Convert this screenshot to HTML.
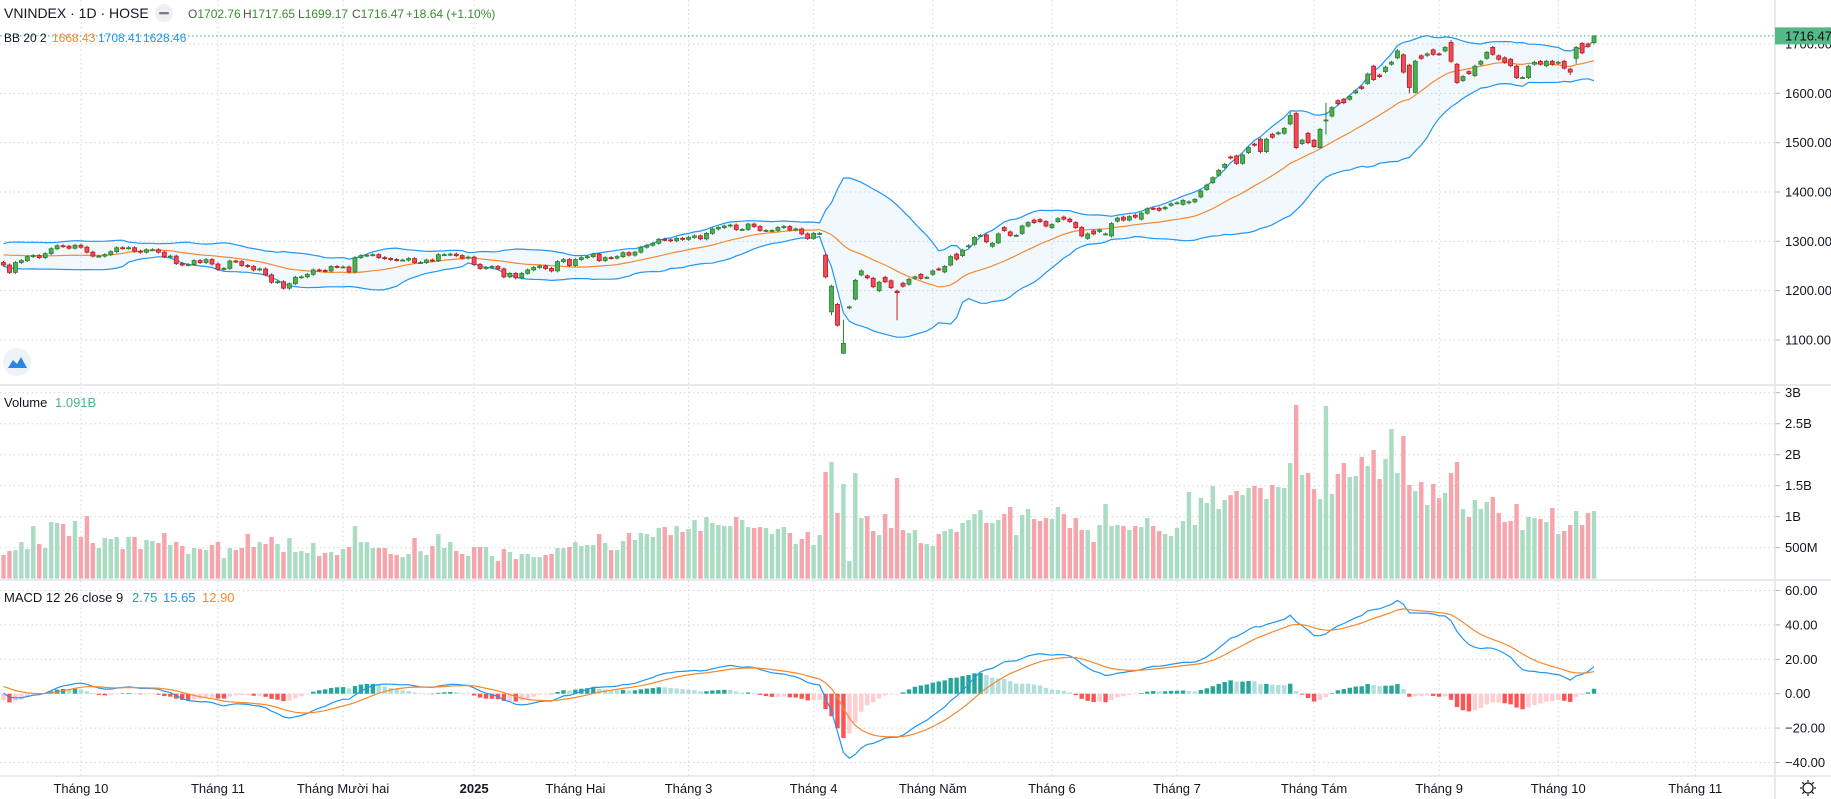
<!DOCTYPE html>
<html><head><meta charset="utf-8"><title>VNINDEX 1D HOSE</title>
<style>
html,body{margin:0;padding:0;background:#fff;}
svg{display:block;font-family:"Liberation Sans",sans-serif;}
</style></head>
<body>
<svg id="chart" width="1831" height="799" viewBox="0 0 1831 799" xmlns="http://www.w3.org/2000/svg">
  <rect x="0" y="0" width="1831" height="799" fill="#ffffff"/>
  <g id="grid"></g>
  <g id="bbLayer"></g>
  <g id="candles"></g>
  <g id="volume"></g>
  <g id="macd"></g>
  <g id="axes"></g>

  <g font-size="14" fill="#131722">
    <text x="4" y="18">VNINDEX · 1D · HOSE</text>
    <circle cx="164" cy="13" r="9" fill="#eef0f4"/>
    <rect x="159" y="12" width="10" height="2.4" rx="1" fill="#787b86"/>
    <g font-size="12">
      <text x="188" y="18"><tspan fill="#555">O</tspan><tspan fill="#3d8a34">1702.76</tspan></text>
      <text x="243" y="18"><tspan fill="#555">H</tspan><tspan fill="#3d8a34">1717.65</tspan></text>
      <text x="298" y="18"><tspan fill="#555">L</tspan><tspan fill="#3d8a34">1699.17</tspan></text>
      <text x="352" y="18"><tspan fill="#555">C</tspan><tspan fill="#3d8a34">1716.47</tspan></text>
      <text x="406" y="18" fill="#3d8a34">+18.64 (+1.10%)</text>
    </g>
    <g font-size="12">
      <text x="4" y="42">BB 20 2</text>
      <text x="52" y="42" fill="#f7882f">1668.43</text>
      <text x="98" y="42" fill="#2196f3">1708.41</text>
      <text x="143" y="42" fill="#2196f3">1628.46</text>
    </g>
    <g font-size="13">
      <text x="4" y="407">Volume</text>
      <text x="55" y="407" fill="#4cb38a">1.091B</text>
    </g>
    <g font-size="13">
      <text x="4" y="602">MACD 12 26 close 9</text>
      <text x="132" y="602" fill="#26a69a">2.75</text>
      <text x="163" y="602" fill="#2196f3">15.65</text>
      <text x="202" y="602" fill="#f7882f">12.90</text>
    </g>
  </g>

  <g>
    <circle cx="17" cy="362" r="14" fill="#eef3fa"/>
    <path d="M8 368 L13 360 L17 364 L21 357 L27 368 Z" fill="#2a86e0"/>
  </g>
  <g transform="translate(1808,788)" stroke="#131722" stroke-width="1.3" fill="none">
    <circle r="5"/>
    <path d="M0 -8 V-6 M0 6 V8 M-8 0 H-6 M6 0 H8 M-5.7 -5.7 L-4.2 -4.2 M4.2 4.2 L5.7 5.7 M-5.7 5.7 L-4.2 4.2 M4.2 -4.2 L5.7 -5.7"/>
  </g>
</svg>
<script>
// ---------- DATA ----------
const priorCloses = [1253,1262,1270,1275,1268,1272,1280,1285,1288,1281,1278,1287,1290,1284,1275,1270,1268,1260,1257];
const closes = [
1252,1237,1257,1261,1269,1271,1267,1275,1285,1291,
1290,1286,1292,1288,1278,1270,1270,1273,1279,1287,
1286,1287,1280,1278,1283,1283,1278,1269,1270,1255,
1252,1253,1261,1257,1263,1254,1243,1245,1260,1259,
1251,1249,1242,1244,1232,1217,1218,1205,1214,1227,
1228,1233,1242,1241,1240,1249,1248,1248,1238,1267,
1271,1272,1273,1267,1265,1263,1262,1262,1265,1257,
1257,1262,1261,1273,1273,
1274,1271,1266,1268,1253,1245,1247,1249,1244,1228,
1235,1226,1235,1242,1247,1250,1245,1240,1259,1263,
1251,1263,1267,1269,1274,1261,1267,1266,1269,1277,
1272,1278,1288,1292,1296,1304,1303,1301,1306,1304,
1308,1311,1305,1316,1325,1328,1331,1333,1324,1324,
1335,1330,1322,1322,1322,1328,1330,1323,1325,1315,
1306,1316,1316,
1228,1209,1130,1093,1167,1221,1240,1226,1208,1217,
1218,1206,1196,1209,1223,1228,1225,1227,1240,1243,
1249,1269,1264,1282,1291,1308,1312,1299,1296,1315,
1322,1312,1312,1331,1338,1338,1340,1331,1334,1346,
1345,1340,1328,1311,1315,1315,1323,1315,1336,1347,
1343,1350,1349,1357,1366,1366,1363,1369,1376,1378,
1383,1380,1385,1402,1414,1429,1444,1456,1469,1458,
1475,1490,1495,1482,1507,1511,1520,1529,1555,1490,
1505,1500,1492,1527,1546,1571,1579,1581,1594,1605,
1610,1639,1628,1634,1653,1663,1686,1643,1612,1665,
1671,1680,1679,1679,1693,1665,1622,1634,1640,1655,
1665,1683,1679,1669,1663,1656,1632,1632,1655,1663,
1659,1665,1659,1663,1651,1643,1693,1682,1695,1716.47
];
const openStart = 138;
const openReads = [
1272,1157,1172,1073,1165,1183,1232,1230,1225,1200,
1227,1220,1199,1215,1213,1225,1233,1227,1233,1244,
1238,1252,1274,1271,1289,1294,1312,1313,1290,1297,
1328,1319,1312,1316,1331,1343,1344,1340,1328,1340,
1349,1345,1338,1328,1306,1321,1320,1315,1311,1341,
1349,1343,1353,1345,1357,1367,1367,1366,1373,1378,
1375,1378,1380,1390,1405,1419,1434,1450,1471,1473,
1458,1480,1497,1507,1482,1517,1518,1519,1538,1559,
1498,1519,1505,1490,1546,1554,1585,1588,1588,1601,
1613,1620,1655,1637,1644,1659,1672,1678,1657,1602,
1676,1677,1688,1680,1686,1703,1659,1626,1644,1636,
1659,1671,1693,1676,1672,1669,1655,1632,1632,1659,
1665,1656,1665,1661,1665,1649,1671,1701,1700,1702.76
];
const highReads = {141:1141, 211:1510, 216:1562, 217:1562, 222:1581, 230:1658, 234:1690, 243:1708, 267:1717.65};
const lowReads = {139:1150, 141:1073, 150:1140, 211:1478, 221:1488, 222:1517, 236:1600, 237:1600, 263:1637, 264:1660, 267:1699.17};
// volume in millions of shares
const volumes = [
382,446,462,591,478,849,559,495,914,
898,882,688,930,672,1011,575,495,656,640,
672,478,672,672,478,624,607,575,737,543,
591,527,398,495,478,462,543,591,333,495,
462,495,720,511,591,559,672,559,430,656,
430,446,414,575,366,414,430,382,478,511,
849,591,591,495,495,495,398,382,349,398,
656,446,382,527,720,495,591,446,398,366,
511,511,511,366,285,478,430,317,398,398,
349,349,382,398,
495,495,511,591,527,543,543,720,575,462,
462,607,737,624,737,720,672,817,833,704,
849,753,801,946,769,995,898,866,849,849,
995,946,833,817,833,817,720,801,833,737,
559,640,753,543,704,1720,1882,1059,1527,285,
1704,978,1011,769,704,1043,817,1624,785,737,
785,575,559,527,720,769,801,753,898,946,
1043,1107,898,898,946,1043,1156,704,1027,1124,
962,930,978,962,1156,1043,817,978,785,785,
591,866,1204,
849,866,849,785,849,833,978,849,769,720,
688,817,930,1398,866,1301,1220,1495,1124,1269,
1349,1414,1349,1462,1495,1462,1285,1511,1478,1462,
1865,2801,1672,1704,1446,1285,2785,1366,1688,1865,
1640,1656,1962,1817,2075,1607,1930,2414,1704,2301,
1511,1414,1559,1188,1527,1301,1382,1704,1882,1124,
995,1269,1124,1236,1317,1059,914,930,1204,785,
995,978,962,914,1140,720,769,866,1091,866,
1059,1091
];
const monthLabels = ["Tháng 10","Tháng 11","Tháng Mười hai","2025","Tháng Hai","Tháng 3","Tháng 4","Tháng Năm","Tháng 6","Tháng 7","Tháng Tám","Tháng 9","Tháng 10","Tháng 11"];
const monthStartBars = [13,36,57,79,96,115,136,156,176,197,220,241,261,284];
const priceTicks = [1100,1200,1300,1400,1500,1600,1700];
const volumeTicks = [0.5,1,1.5,2,2.5,3];
const volumeTickLabels = ["500M","1B","1.5B","2B","2.5B","3B"];
const macdTicks = [-40,-20,0,20,40,60];

// ---------- SCALES ----------
const NS = "http://www.w3.org/2000/svg";
const X0 = 3.5, STEP = 5.957, AXIS_X = 1775;
const xOf = i => X0 + i * STEP;
const yPrice = p => 44 + (1700 - p) * 0.4933;
const yVol = m => 578.7 - (m / 1000) * 62;
const yMacd = v => 693.7 - v * 1.72;

function mk(tag, attrs, parent) {
  const el = document.createElementNS(NS, tag);
  for (const k in attrs) el.setAttribute(k, attrs[k]);
  parent.appendChild(el);
  return el;
}
const gGrid = document.getElementById('grid');
const gBB = document.getElementById('bbLayer');
const gC = document.getElementById('candles');
const gV = document.getElementById('volume');
const gM = document.getElementById('macd');
const gA = document.getElementById('axes');

const N = closes.length;
const all = priorCloses.concat(closes);
const P = priorCloses.length;
const opens = closes.map((c, i) => i >= openStart ? openReads[i - openStart] : all[i + P - 1]);

// ---------- GRID ----------
monthStartBars.forEach((b, k) => {
  const x = xOf(b);
  const l = mk('line', {x1:x, x2:x, y1:0, y2:776, stroke:'#d3d6dd', 'stroke-dasharray':'1.5,3', 'stroke-width':1}, gGrid);
  
  
  const t = mk('text', {x:x, y:793, 'text-anchor':'middle', 'font-size':13, fill:'#131722', 'font-weight': monthLabels[k] === '2025' ? 'bold' : 'normal'}, gA);
  t.textContent = monthLabels[k];
  
  
});
function hGrid(y, label, name) {
  const l = mk('line', {x1:0, x2:AXIS_X, y1:y, y2:y, stroke:'#d3d6dd', 'stroke-dasharray':'1.5,3'}, gGrid);
  
  
  mk('line', {x1:AXIS_X, x2:AXIS_X + 5, y1:y, y2:y, stroke:'#b2b5be'}, gA);
  const t = mk('text', {x:1785, y:y + 4.5, 'font-size':13, fill:'#131722'}, gA);
  t.textContent = label;
  
  
}
priceTicks.forEach(p => hGrid(yPrice(p), p.toFixed(2), 'price-axis'));
volumeTicks.forEach((v, k) => hGrid(yVol(v * 1000), volumeTickLabels[k], 'volume-axis'));
macdTicks.forEach(v => hGrid(yMacd(v), (v < 0 ? '\u2212' + Math.abs(v).toFixed(2) : v.toFixed(2)), 'macd-axis'));

// pane separators & axis line
[385, 580, 776].forEach(y => {
  const l = mk('line', {x1:0, x2:1831, y1:y, y2:y, stroke:'#e0e3eb', 'stroke-width':1.5}, gA);
  
  
});
{
  const l = mk('line', {x1:AXIS_X, x2:AXIS_X, y1:0, y2:799, stroke:'#e0e3eb', 'stroke-width':1.5}, gA);
  
  
}

// ---------- BOLLINGER ----------
const bbMid = [], bbUp = [], bbLo = [];
for (let i = 0; i < N; i++) {
  const j = i + P;
  const w = all.slice(Math.max(0, j - 19), j + 1);
  const m = w.reduce((a, b) => a + b, 0) / w.length;
  const sd = Math.sqrt(w.reduce((a, b) => a + (b - m) * (b - m), 0) / w.length);
  bbMid.push(m); bbUp.push(m + 2 * sd); bbLo.push(m - 2 * sd);
}
const ptsUp = bbUp.map((v, i) => xOf(i).toFixed(1) + ',' + yPrice(v).toFixed(1));
const ptsLo = bbLo.map((v, i) => xOf(i).toFixed(1) + ',' + yPrice(v).toFixed(1));
const fill = mk('polygon', {points: ptsUp.concat(ptsLo.slice().reverse()).join(' '), fill:'#2196f3', 'fill-opacity':0.06}, gBB);


const lu = mk('polyline', {points: ptsUp.join(' '), fill:'none', stroke:'#2196f3', 'stroke-width':1.2}, gBB);


const ll = mk('polyline', {points: ptsLo.join(' '), fill:'none', stroke:'#2196f3', 'stroke-width':1.2}, gBB);


const lm = mk('polyline', {points: bbMid.map((v, i) => xOf(i).toFixed(1) + ',' + yPrice(v).toFixed(1)).join(' '), fill:'none', stroke:'#f7882f', 'stroke-width':1.2}, gBB);



// current price line
{
  const last = closes[N - 1];
  const y = yPrice(last);
  const l = mk('line', {x1:0, x2:AXIS_X, y1:y, y2:y, stroke:'#26a69a', 'stroke-dasharray':'1.5,2.5'}, gA);
  
  
  const r = mk('rect', {x:AXIS_X, y:y - 8.5, width:56, height:17, fill:'#53b987'}, gA);
  
  
  const t = mk('text', {x:1785, y:y + 4.5, 'font-size':13, fill:'#0b0e14'}, gA);
  t.textContent = last.toFixed(2);
  
  
}

// ---------- CANDLES & VOLUME ----------
for (let i = 0; i < N; i++) {
  const o = opens[i], c = closes[i];
  const up = c >= o;
  const hi = highReads[i] !== undefined ? highReads[i] : Math.max(o, c) + 3;
  const lo = lowReads[i] !== undefined ? lowReads[i] : Math.min(o, c) - 3;
  const x = xOf(i);
  const stroke = up ? '#2e7d32' : '#b71c1c';
  const w = mk('line', {x1:x, x2:x, y1:yPrice(hi), y2:yPrice(lo), stroke:stroke, 'stroke-width':1}, gC);
  
  
  const yt = yPrice(Math.max(o, c)), yb = yPrice(Math.min(o, c));
  const b = mk('rect', {x:x - 2, y:yt, width:4, height:Math.max(1, yb - yt), fill: up ? '#4caf50' : '#f04a5a', stroke:stroke, 'stroke-width':0.8}, gC);
  
  

  const vy = yVol(volumes[i]);
  const vb = mk('rect', {x:x - 2.2, y:vy, width:4.4, height:578.7 - vy, fill: up ? '#a9dcc3' : '#f5a5ab'}, gV);
  
  
}

// ---------- MACD ----------
function ema(arr, n) {
  const k = 2 / (n + 1); const out = [arr[0]];
  for (let i = 1; i < arr.length; i++) out.push(arr[i] * k + out[i - 1] * (1 - k));
  return out;
}
const e12 = ema(all, 12), e26 = ema(all, 26);
const macdAll = e12.map((v, i) => v - e26[i]);
const sigAll = ema(macdAll, 9);
const macdLine = macdAll.slice(P), sigLine = sigAll.slice(P);
const hist = macdLine.map((v, i) => v - sigLine[i]);
hist.forEach((h, i) => {
  const prev = i > 0 ? hist[i - 1] : h;
  let col;
  if (h >= 0) col = h > prev ? '#26a69a' : '#b2dfdb';
  else col = h < prev ? '#ff5252' : '#ffcdd2';
  const y0 = yMacd(0), y1 = yMacd(h);
  const r = mk('rect', {x:xOf(i) - 2.2, y:Math.min(y0, y1), width:4.4, height:Math.max(0.5, Math.abs(y1 - y0)), fill:col}, gM);
  
  
});
const ml = mk('polyline', {points: macdLine.map((v, i) => xOf(i).toFixed(1) + ',' + yMacd(v).toFixed(1)).join(' '), fill:'none', stroke:'#2196f3', 'stroke-width':1.2}, gM);


const sl = mk('polyline', {points: sigLine.map((v, i) => xOf(i).toFixed(1) + ',' + yMacd(v).toFixed(1)).join(' '), fill:'none', stroke:'#f7882f', 'stroke-width':1.2}, gM);


</script>
</body></html>
